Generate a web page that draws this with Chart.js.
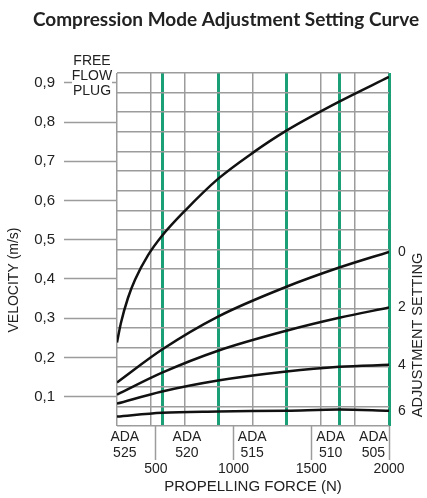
<!DOCTYPE html>
<html>
<head>
<meta charset="utf-8">
<script src="https://cdn.jsdelivr.net/npm/chart.js@4.4.1/dist/chart.umd.min.js"></script>
<style>
  body { margin: 0; background: #fff; }
  canvas { display: block; }
</style>
</head>
<body>
<canvas id="curveChart" width="427" height="498"></canvas>
<script>
// values
const force = [250, 540, 900, 1340, 1680, 2000];
const setting0 = [0.136, 0.220, 0.304, 0.380, 0.429, 0.469];
const setting2 = [0.105, 0.161, 0.217, 0.268, 0.301, 0.327];
const setting4 = [0.082, 0.113, 0.141, 0.164, 0.176, 0.181];
const setting6 = [0.049, 0.059, 0.062, 0.064, 0.067, 0.064];
const freeFlowForce = [250, 276, 321, 366, 449, 540, 690, 900, 1125, 1340, 1680, 2000];
const freeFlowVel = [0.238, 0.289, 0.352, 0.398, 0.460, 0.510, 0.575, 0.655, 0.722, 0.778, 0.852, 0.915];

const velocityTicks = [0.1, 0.2, 0.3, 0.4, 0.5, 0.6, 0.7, 0.8, 0.9];
const forceTicks = [500, 1000, 1500, 2000];
const adaModels = ['525', '520', '515', '510', '505'];
const adaForce = [300, 700, 1120, 1625, 1900];
const adaLimits = [540, 900, 1340, 1680, 2000];
const settingLabels = ['0', '2', '4', '6'];

const VMIN = 0.025, VMAX = 0.925, FMIN = 250, FMAX = 2000;
const gray = '#9c9c9c';
const green = '#1b9f76';
const ink = '#222';
const font = 'Liberation Sans, Arial, sans-serif';

function pts(xs, ys) {
    return xs.map((x, i) => ({ x: x, y: ys[i] }));
}
function curve(data) {
    return {
        data: data,
        borderColor: '#111',
        borderWidth: 2.5,
        pointRadius: 0,
        cubicInterpolationMode: 'monotone',
        xAxisID: 'x',
        yAxisID: 'y'
    };
}
const curves = [setting0, setting2, setting4, setting6];
const ends = curves.map(c => c[c.length - 1]);

const textPlugin = {
    id: 'texts',
    afterDraw(chart) {
        const ctx = chart.ctx;
        ctx.save();
        ctx.fillStyle = ink;
        ctx.textAlign = 'center';
        ctx.textBaseline = 'middle';
        ctx.font = 'bold 19px Lato, sans-serif';
        ctx.fillText('Compression Mode Adjustment Setting Curve', 226, 20);

        ctx.font = '14px ' + font;
        ctx.save();
        ctx.translate(14, 280);
        ctx.rotate(-Math.PI / 2);
        ctx.fillText('VELOCITY (m/s)', 0, 0);
        ctx.restore();

        ctx.save();
        ctx.font = '14.5px ' + font;
        ctx.translate(418, 335);
        ctx.rotate(-Math.PI / 2);
        ctx.fillText('ADJUSTMENT SETTING', 0, 0);
        ctx.restore();

        // free flow plug label sitting on the 0,9 tick
        const y9 = chart.scales.y.getPixelForValue(0.9);
        ctx.fillStyle = '#fff';
        ctx.fillRect(72, y9 - 30, 40, 44);
        ctx.fillStyle = ink;
        ctx.font = '14px ' + font;
        ctx.fillText('FREE', 92, y9 - 22);
        ctx.fillText('FLOW', 92, y9 - 7);
        ctx.fillText('PLUG', 92, y9 + 8);
        ctx.restore();
    }
};

new Chart(document.getElementById('curveChart'), {
    type: 'line',
    data: {
        datasets: [
            curve(pts(freeFlowForce, freeFlowVel)),
            curve(pts(force, setting0)),
            curve(pts(force, setting2)),
            curve(pts(force, setting4)),
            curve(pts(force, setting6))
        ]
    },
    options: {
        responsive: false,
        animation: false,
        layout: { padding: { top: 73, left: 0, right: 0, bottom: 0 } },
        plugins: {
            legend: { display: false },
            tooltip: { enabled: false }
        },
        scales: {
            xg: {
                type: 'linear', position: 'bottom', min: FMIN, max: FMAX,
                afterBuildTicks: s => { s.ticks = Array.from({ length: 9 }, (_, k) => ({ value: FMIN + k * (FMAX - FMIN) / 8 })); },
                afterFit: s => { s.height = 0; },
                ticks: { display: false },
                grid: { drawTicks: false, color: gray, lineWidth: 1.5 },
                border: { display: false }
            },
            xm: {
                type: 'linear', position: 'bottom', min: FMIN, max: FMAX,
                afterBuildTicks: s => { s.ticks = adaLimits.map(v => ({ value: v })); },
                afterFit: s => { s.height = 0; },
                ticks: { display: false },
                grid: { drawTicks: false, color: green, lineWidth: 3 },
                border: { display: false }
            },
            x: {
                type: 'linear', position: 'bottom', min: FMIN, max: FMAX,
                afterBuildTicks: s => {
                    s.ticks = forceTicks.map(v => ({ value: v })).concat(adaForce.map(v => ({ value: v })));
                },
                afterFit: s => { s.height = 72; },
                grid: {
                    drawOnChartArea: false, tickLength: 34, tickWidth: 1.5,
                    tickColor: c => (c.tick && forceTicks.includes(c.tick.value)) ? gray : 'rgba(0,0,0,0)'
                },
                border: { display: false },
                ticks: {
                    autoSkip: false, maxRotation: 0, padding: -31, color: ink,
                    font: { family: font, size: 14, lineHeight: 1.15 },
                    callback: (v, i) => i < forceTicks.length ? ['', '', String(v)] : ['ADA', adaModels[i - forceTicks.length]]
                },
                title: {
                    display: true, text: 'PROPELLING FORCE (N)', color: ink,
                    font: { family: font, size: 15 }, padding: { top: 0, bottom: 2 }
                }
            },
            yg: {
                type: 'linear', position: 'left', min: VMIN, max: VMAX,
                afterBuildTicks: s => { s.ticks = Array.from({ length: 19 }, (_, k) => ({ value: VMIN + k * 0.05 })); },
                afterFit: s => { s.width = 0; },
                ticks: { display: false },
                grid: { drawTicks: false, color: gray, lineWidth: 1.5 },
                border: { display: false }
            },
            y: {
                type: 'linear', position: 'left', min: VMIN, max: VMAX,
                afterBuildTicks: s => { s.ticks = velocityTicks.map(v => ({ value: v })); },
                afterFit: s => { s.width = 117; },
                grid: { drawOnChartArea: false, tickLength: 53, tickWidth: 1.5, tickColor: gray },
                border: { display: false },
                ticks: {
                    padding: 9, color: ink, font: { family: font, size: 15 },
                    callback: v => v.toFixed(1).replace('.', ',')
                }
            },
            y2: {
                type: 'linear', position: 'right', min: VMIN, max: VMAX,
                afterBuildTicks: s => { s.ticks = ends.map(v => ({ value: v })); },
                afterFit: s => { s.width = 38; },
                grid: { drawOnChartArea: false, drawTicks: false },
                border: { display: false },
                ticks: {
                    padding: 9, color: ink, font: { family: font, size: 14 },
                    callback: (v, i) => settingLabels[i]
                }
            }
        }
    },
    plugins: [textPlugin]
});
</script>
</body>
</html>
